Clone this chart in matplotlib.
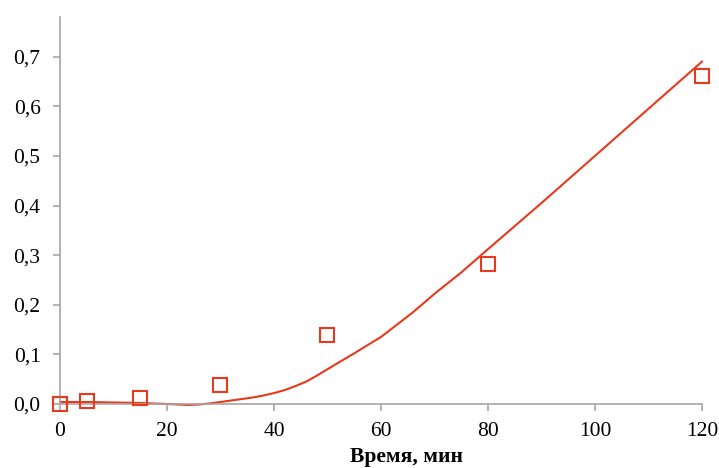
import matplotlib.pyplot as plt
from matplotlib.ticker import FuncFormatter

# Measured points
t_exp = [0, 5, 15, 30, 50, 80, 120]
c_exp = [0.0, 0.006, 0.012, 0.038, 0.139, 0.283, 0.661]

# Model curve
t_fit = [0, 5, 10, 15, 20, 22, 24, 26, 28, 30, 32, 34, 36, 38, 40, 42, 44,
         46, 48, 50, 52, 55, 58, 60, 63, 66, 70, 75, 80, 90, 100, 110, 120]
c_fit = [0.004, 0.004, 0.003, 0.002, 0.000, -0.001, -0.002, -0.001, 0.001,
         0.004, 0.007, 0.010, 0.013, 0.017, 0.022, 0.028, 0.036, 0.045,
         0.057, 0.070, 0.083, 0.102, 0.122, 0.135, 0.160, 0.185, 0.222,
         0.265, 0.312, 0.405, 0.500, 0.595, 0.690]

red = '#E8391D'
grey = '#A6A6A6'

plt.rcParams['font.family'] = ['Liberation Serif', 'DejaVu Serif']

fig = plt.figure(figsize=(7.19, 4.68), dpi=100)
ax = fig.add_axes([0.0834, 0.1368, 0.8929, 0.8269])

ax.plot(t_fit, c_fit, color=red, lw=1.5, clip_on=False)
ax.plot(t_exp, c_exp, 's', ms=10.5, mfc='none', mec=red, mew=1.5,
        clip_on=False, zorder=3)

ax.set_xlim(0, 120)
ax.set_ylim(0, 0.78)
ax.set_xticks(range(0, 121, 20))
ax.set_yticks([i / 10 for i in range(8)])
ax.yaxis.set_major_formatter(FuncFormatter(lambda v, p: f'{v:.1f}'.replace('.', ',')))

for s in ['top', 'right']:
    ax.spines[s].set_visible(False)
for s in ['left', 'bottom']:
    ax.spines[s].set_color(grey)
    ax.spines[s].set_linewidth(1.2)
ax.tick_params(colors=grey, labelcolor='black', labelsize=15.5, length=5,
               width=1.2, direction='out')
ax.tick_params(axis='x', pad=8)
ax.tick_params(axis='y', pad=9)

fig.text(0.565, 0.013, 'Время, мин', ha='center', va='baseline',
         fontsize=15.5, fontweight='bold')

plt.savefig('out.png', dpi=100)
